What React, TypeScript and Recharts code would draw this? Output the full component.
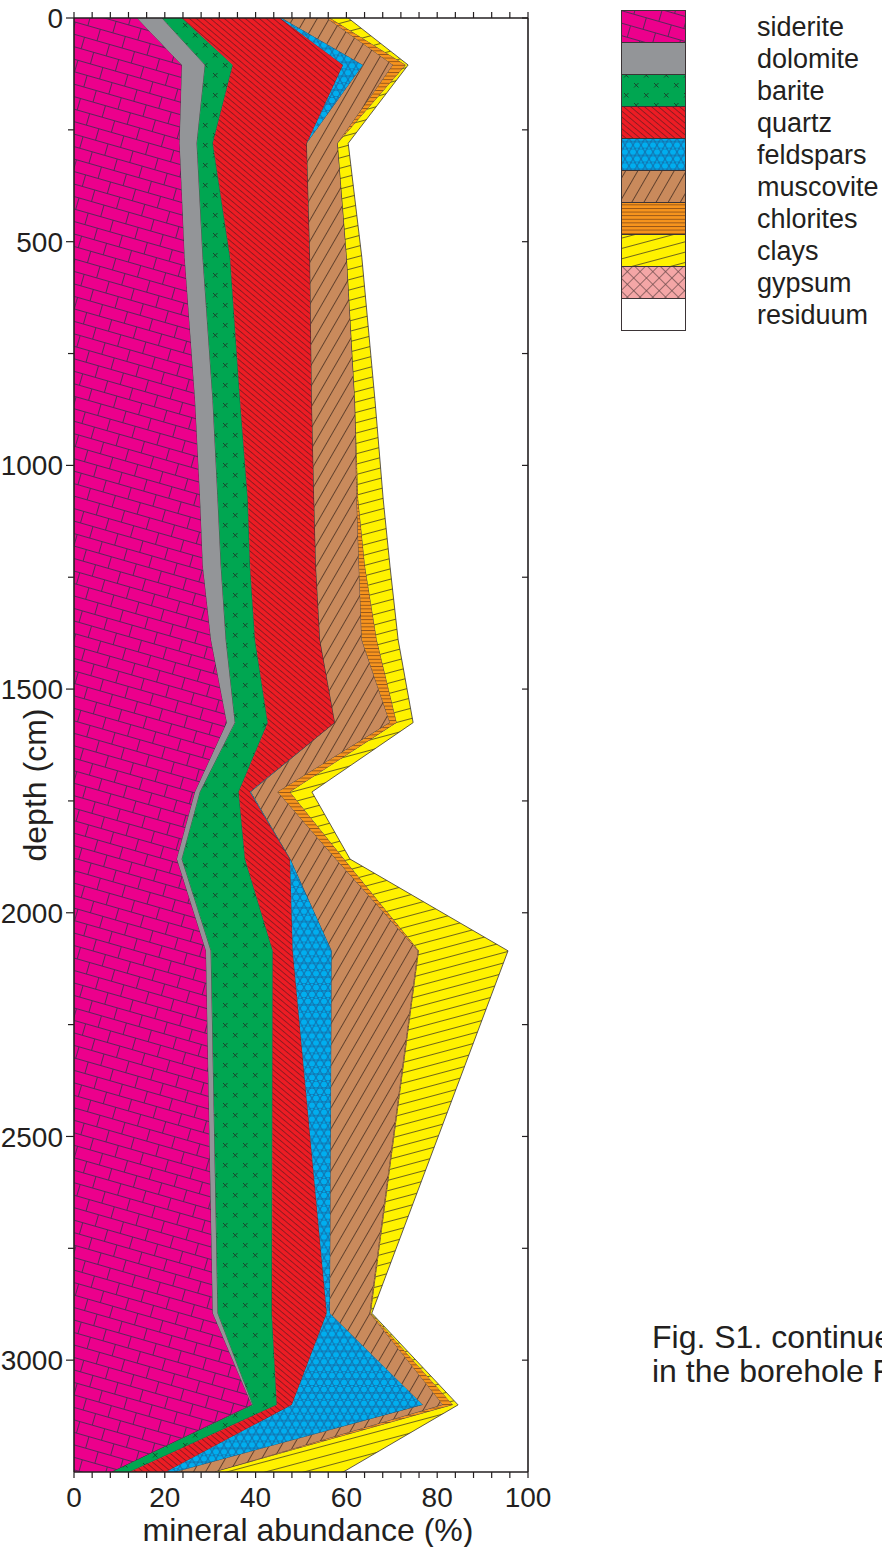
import React from 'react';
import { AreaChart, Area, XAxis, YAxis } from 'recharts';

// depth of each sample (cm) and abundance of each mineral (%)
const DEPTH = [0, 105, 280, 535, 855, 1075, 1225, 1390, 1575, 1730, 1880, 2085, 2895, 3100, 3250];
const SIDERITE = [13.9, 23.8, 23.3, 24.4, 26.7, 27.8, 28.4, 30.2, 33.7, 26.7, 22.7, 29.1, 30.6, 39.2, 8.4];
const DOLOMITE = [5.5, 5.1, 3.8, 4.0, 3.9, 3.9, 4.0, 3.3, 1.8, 1.1, 1.1, 1.1, 1.1, 0.2, 0];
const BARITE = [4.4, 6.1, 3.5, 6.0, 6.0, 6.6, 6.4, 6.4, 7.2, 8.5, 13.9, 13.6, 11.9, 5.3, 3.9];
const QUARTZ = [21.6, 24.3, 20.7, 17.6, 15.8, 14.6, 14.5, 14.3, 14.8, 2.5, 9.9, 4.4, 12.1, 3.3, 8.0];
const FELDSPARS = [0.4, 4.4, 0, 0, 0, 0, 0, 0, 0, 0.2, 0.1, 8.6, 0.7, 28.9, 2.2];
const MUSCOVITE = [9.9, 6.6, 6.8, 8.1, 9.5, 9.4, 9.5, 9.2, 12.1, 5.9, 10.0, 19.0, 8.8, 4.4, 8.6];
const CHLORITES = [0.7, 2.8, 0, 0, 0, 0.3, 1.3, 3.3, 1.5, 2.7, 1.8, 0.2, 0.2, 2.2, 0];
const CLAYS = [4.0, 0.5, 2.3, 3.3, 4.4, 5.5, 5.5, 4.7, 3.6, 4.8, 1.3, 19.6, 0.2, 1.1, 28.2];

const X_TICKS = [0, 4, 8, 12, 16, 20, 24, 28, 32, 36, 40, 44, 48, 52, 56, 60, 64, 68, 72, 76, 80, 84, 88, 92, 96, 100];
const Y_TICKS = [0, 250, 500, 750, 1000, 1250, 1500, 1750, 2000, 2250, 2500, 2750, 3000];

const LEGEND_NAMES = ['siderite', 'dolomite', 'barite', 'quartz', 'feldspars', 'muscovite', 'chlorites', 'clays', 'gypsum', 'residuum'];
const SERIES = ['siderite', 'dolomite', 'barite', 'quartz', 'feldspars', 'muscovite', 'chlorites', 'clays'];

const FONT = '"Liberation Sans", Arial, sans-serif';
const INK = '#231F20';
const EDGE = '#3b3436';

const data = DEPTH.map((depth, i) => ({
  depth,
  siderite: SIDERITE[i],
  dolomite: DOLOMITE[i],
  barite: BARITE[i],
  quartz: QUARTZ[i],
  feldspars: FELDSPARS[i],
  muscovite: MUSCOVITE[i],
  chlorites: CHLORITES[i],
  clays: CLAYS[i],
}));

// fill patterns shared by the chart and the legend
const Patterns = () => (
  <svg width={0} height={0} style={{ position: 'absolute' }}>
    <defs>
      <pattern id="pat-siderite" width={26} height={24} patternUnits="userSpaceOnUse" patternTransform="rotate(16)">
        <rect width={26} height={24} fill="#EC008C" />
        <path d="M0 0.5H26M0 12.5H26M0.5 0.5V12.5M13.5 12.5V24.5" stroke="#4a2d55" strokeWidth={0.9} fill="none" />
      </pattern>
      <pattern id="pat-dolomite" width={10} height={10} patternUnits="userSpaceOnUse">
        <rect width={10} height={10} fill="#939598" />
      </pattern>
      <pattern id="pat-barite" width={20} height={20} patternUnits="userSpaceOnUse">
        <rect width={20} height={20} fill="#00A651" />
        <path d="M3 3L7.5 7.5M7.5 3L3 7.5M13 13L17.5 17.5M17.5 13L13 17.5" stroke="#1d3b29" strokeWidth={0.9} />
      </pattern>
      <pattern id="pat-quartz" width={4.5} height={4.5} patternUnits="userSpaceOnUse" patternTransform="rotate(40)">
        <rect width={4.5} height={4.5} fill="#ED1C24" />
        <path d="M0 0.5H4.5" stroke="#6b1b1f" strokeWidth={0.7} />
      </pattern>
      <pattern id="pat-feldspars" width={8} height={13.86} patternUnits="userSpaceOnUse">
        <rect width={8} height={13.86} fill="#00AEEF" />
        <circle cx={4} cy={3.46} r={3.6} fill="none" stroke="#1c4f86" strokeWidth={0.7} />
        <circle cx={0} cy={10.39} r={3.6} fill="none" stroke="#1c4f86" strokeWidth={0.7} />
        <circle cx={8} cy={10.39} r={3.6} fill="none" stroke="#1c4f86" strokeWidth={0.7} />
      </pattern>
      <pattern id="pat-muscovite" width={10.5} height={10.5} patternUnits="userSpaceOnUse" patternTransform="rotate(-60)">
        <rect width={10.5} height={10.5} fill="#C98A5C" />
        <path d="M0 0.5H10.5" stroke="#4a3022" strokeWidth={0.8} />
      </pattern>
      <pattern id="pat-chlorites" width={10} height={3.6} patternUnits="userSpaceOnUse">
        <rect width={10} height={3.6} fill="#F7941D" />
        <path d="M0 0.5H10" stroke="#6a3a14" strokeWidth={0.7} />
      </pattern>
      <pattern id="pat-clays" width={10} height={10} patternUnits="userSpaceOnUse" patternTransform="rotate(-15)">
        <rect width={10} height={10} fill="#FFF200" />
        <path d="M0 0.5H10" stroke="#4d4520" strokeWidth={0.8} />
      </pattern>
      <pattern id="pat-gypsum" width={9} height={9} patternUnits="userSpaceOnUse" patternTransform="rotate(45)">
        <rect width={9} height={9} fill="#F4A6A6" />
        <path d="M0 0.5H9M0.5 0V9" stroke="#6a4a4a" strokeWidth={0.7} />
      </pattern>
      <pattern id="pat-residuum" width={10} height={10} patternUnits="userSpaceOnUse">
        <rect width={10} height={10} fill="#ffffff" />
      </pattern>
    </defs>
  </svg>
);

const LeftTick = ({ x, y, payload }: any) => {
  const major = payload.value % 500 === 0;
  return (
    <g>
      <line x1={x - (major ? 8 : 6)} x2={x} y1={y} y2={y} stroke={INK} strokeWidth={1.2} />
      {major && (
        <text x={x - 11} y={y} dy="0.36em" textAnchor="end" fontSize={28} fill={INK} fontFamily={FONT}>
          {payload.value}
        </text>
      )}
    </g>
  );
};

const RightTick = ({ x, y }: any) => (
  <line x1={x - 6} x2={x} y1={y} y2={y} stroke={INK} strokeWidth={1.2} />
);

const BottomTick = ({ x, y, payload }: any) => (
  <g>
    <line x1={x} x2={x} y1={y} y2={y + 6} stroke={INK} strokeWidth={1.2} />
    {payload.value % 20 === 0 && (
      <text x={x} y={y + 25} dy="0.36em" textAnchor="middle" fontSize={28} fill={INK} fontFamily={FONT}>
        {payload.value}
      </text>
    )}
  </g>
);

const TopTick = ({ x, y }: any) => (
  <line x1={x} x2={x} y1={y - 6} y2={y} stroke={INK} strokeWidth={1.2} />
);

const axisLine = { stroke: INK, strokeWidth: 1.6 };

const MineralLegend = () => (
  <div style={{ position: 'absolute', left: 621, top: 10 }}>
    <svg width={261} height={324}>
      {LEGEND_NAMES.map((name, i) => (
        <g key={name}>
          <rect x={0.5} y={i * 32 + 0.5} width={64} height={32} fill={`url(#pat-${name})`} stroke={EDGE} strokeWidth={1} />
          <text x={136} y={i * 32 + 16} dy="0.36em" fontSize={27} fill={INK} fontFamily={FONT}>
            {name}
          </text>
        </g>
      ))}
    </svg>
  </div>
);

export default function App() {
  return (
    <div style={{ position: 'absolute', left: 0, top: 0, width: 882, height: 1547, overflow: 'hidden', background: '#fff', fontFamily: FONT, color: INK }}>
      <Patterns />
      <AreaChart
        width={560}
        height={1547}
        data={data}
        layout="vertical"
        margin={{ top: 8, right: 31, bottom: 0, left: 14 }}
      >
        <XAxis
          type="number"
          domain={[0, 100]}
          ticks={X_TICKS}
          interval={0}
          allowDataOverflow
          height={75}
          axisLine={axisLine}
          tickLine={false}
          tickSize={0}
          tickMargin={0}
          tick={<BottomTick />}
        />
        <XAxis
          xAxisId="top"
          orientation="top"
          type="number"
          domain={[0, 100]}
          ticks={X_TICKS}
          interval={0}
          allowDataOverflow
          height={10}
          axisLine={axisLine}
          tickLine={false}
          tickSize={0}
          tickMargin={0}
          tick={<TopTick />}
        />
        <YAxis
          type="number"
          dataKey="depth"
          domain={[0, 3250]}
          ticks={Y_TICKS}
          interval={0}
          allowDataOverflow
          width={60}
          axisLine={axisLine}
          tickLine={false}
          tickSize={0}
          tickMargin={0}
          tick={<LeftTick />}
        />
        <YAxis
          yAxisId="right"
          orientation="right"
          type="number"
          dataKey="depth"
          domain={[0, 3250]}
          ticks={Y_TICKS}
          interval={0}
          allowDataOverflow
          width={1}
          axisLine={axisLine}
          tickLine={false}
          tickSize={0}
          tickMargin={0}
          tick={<RightTick />}
        />
        {SERIES.map((key) => (
          <Area
            key={key}
            type="linear"
            dataKey={key}
            stackId="minerals"
            fill={`url(#pat-${key})`}
            fillOpacity={1}
            stroke={EDGE}
            strokeWidth={0.8}
            dot={false}
            activeDot={false}
            isAnimationActive={false}
          />
        ))}
      </AreaChart>
      <div
        style={{
          position: 'absolute',
          left: 35,
          top: 785,
          transform: 'translate(-50%, -50%) rotate(-90deg)',
          fontSize: 32,
          whiteSpace: 'nowrap',
        }}
      >
        depth (cm)
      </div>
      <div style={{ position: 'absolute', left: 81, width: 454, top: 1512, textAlign: 'center', fontSize: 32, lineHeight: '36px', whiteSpace: 'nowrap' }}>
        mineral abundance (%)
      </div>
      <MineralLegend />
      <div style={{ position: 'absolute', left: 652, top: 1320, fontSize: 32, lineHeight: '34px', whiteSpace: 'nowrap' }}>
        <div>Fig. S1. continue</div>
        <div>in the borehole F</div>
      </div>
    </div>
  );
}
